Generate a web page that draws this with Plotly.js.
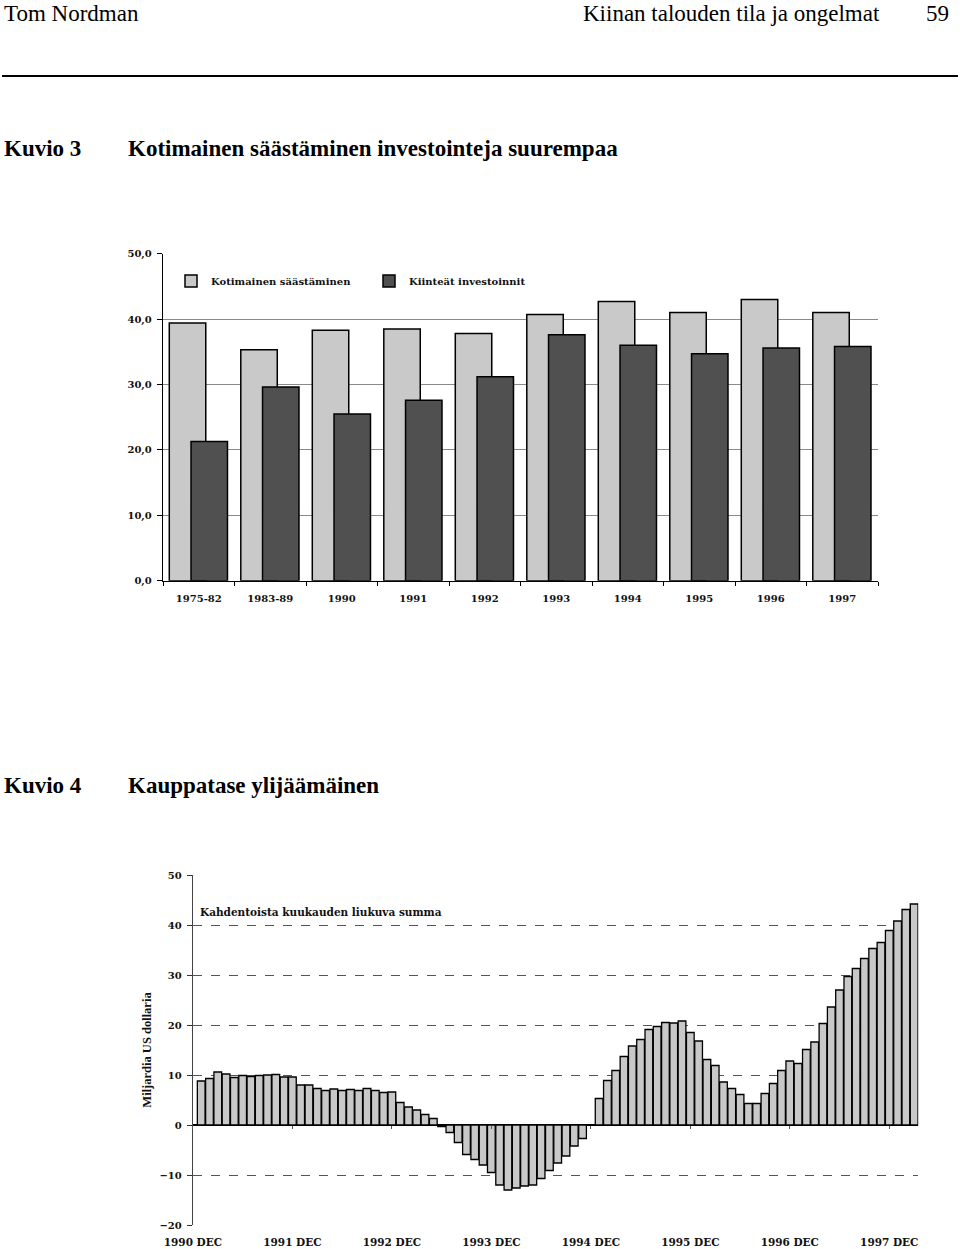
<!DOCTYPE html>
<html>
<head>
<meta charset="utf-8">
<script src="https://cdn.plot.ly/plotly-3.0.1.min.js"></script>
<style>
  html, body { margin: 0; padding: 0; background: #fff; }
  #chart { width: 960px; height: 1249px; }
</style>
</head>
<body>
<div id="chart"></div>
<script>
// ---- Kuvio 3 data ----
const periods = ['1975-82', '1983-89', '1990', '1991', '1992', '1993', '1994', '1995', '1996', '1997'];
const domesticSaving = [39.4, 35.3, 38.3, 38.5, 37.8, 40.7, 42.7, 41.0, 43.0, 41.0];
const fixedInvestment = [21.3, 29.6, 25.5, 27.6, 31.2, 37.6, 36.0, 34.7, 35.6, 35.8];
const seriesNames = ['Kotimainen säästäminen', 'Kiinteät investoinnit'];

// ---- Kuvio 4 data (12-month rolling sum, Jan 1991 .. Mar 1998) ----
const tradeSurplus = [
  8.8, 9.3, 10.6, 10.2, 9.5, 9.9, 9.7, 9.9, 10.0, 10.1, 9.6, 9.6,
  8.0, 8.0, 7.3, 6.9, 7.2, 6.9, 7.1, 6.9, 7.3, 6.9, 6.5, 6.6,
  4.5, 3.6, 3.0, 2.1, 1.3, -0.3, -1.5, -3.5, -5.9, -6.9, -8.0, -9.5,
  -12.0, -13.0, -12.6, -12.2, -12.0, -10.7, -9.1, -7.6, -6.2, -4.2, -2.7, 0,
  5.3, 8.9, 10.9, 13.7, 15.8, 17.1, 19.1, 19.7, 20.5, 20.4, 20.8, 18.5,
  16.8, 13.1, 11.9, 8.6, 7.3, 6.1, 4.3, 4.3, 6.3, 8.3, 10.9, 12.8,
  12.3, 15.1, 16.6, 20.3, 23.6, 27.0, 29.7, 31.3, 33.3, 35.3, 36.5, 38.9,
  40.8, 43.1, 44.2
];
const yearLabels = ['1990 DEC', '1991 DEC', '1992 DEC', '1993 DEC', '1994 DEC', '1995 DEC', '1996 DEC', '1997 DEC'];

// month index of each bar (0 = Jan 1991); December of year k sits at index 12k-1
const monthIdx = tradeSurplus.map((_, i) => i);
const decIdx = yearLabels.map((_, k) => 12 * k - 1);

const W = 960, H = 1249;
const px = v => v / W;
const py = v => 1 - v / H;

const serif = 'Liberation Serif, Times New Roman, serif';
const tickFont = { family: 'DejaVu Serif, serif', size: 10, color: '#111', weight: 'bold' };

const data = [
  {
    type: 'bar', name: seriesNames[0], x: periods, y: domesticSaving,
    xaxis: 'x', yaxis: 'y', width: 0.51, offset: -0.412,
    marker: { color: '#c9c9c9', line: { color: '#000', width: 1.5 } },
    hoverinfo: 'x+y'
  },
  {
    type: 'bar', name: seriesNames[1], x: periods, y: fixedInvestment,
    xaxis: 'x', yaxis: 'y', width: 0.51, offset: -0.108,
    marker: { color: '#505050', line: { color: '#000', width: 1.5 } },
    hoverinfo: 'x+y'
  },
  {
    type: 'bar', name: 'Kauppatase', x: monthIdx, y: tradeSurplus,
    xaxis: 'x2', yaxis: 'y2', showlegend: false,
    marker: { color: '#c8c8c8', line: { color: '#000', width: 1.3 } },
    hoverinfo: 'y'
  },
  {
    type: 'scatter', mode: 'markers', x: [], y: [], xaxis: 'x3', yaxis: 'y2',
    showlegend: false, hoverinfo: 'skip'
  }
];

const layout = {
  width: W, height: H,
  margin: { l: 0, r: 0, t: 0, b: 0 },
  paper_bgcolor: '#fff', plot_bgcolor: 'rgba(0,0,0,0)',
  separators: ', ',
  barmode: 'overlay',
  bargap: 0.07,
  showlegend: true,
  legend: {
    orientation: 'h', x: px(171), y: py(281), xanchor: 'left', yanchor: 'middle',
    bgcolor: 'rgba(0,0,0,0)', font: { family: 'DejaVu Serif, serif', size: 10, color: '#111', weight: 'bold' },
    itemwidth: 30, entrywidth: 153, entrywidthmode: 'pixels', traceorder: 'normal'
  },
  xaxis: {
    domain: [px(163), px(878)], anchor: 'y', type: 'category', range: [-0.5, 9.5],
    tickson: 'boundaries', ticks: 'outside', ticklen: 4, tickcolor: '#000',
    showline: true, linecolor: '#000', linewidth: 1.2, showgrid: false, zeroline: false,
    tickfont: tickFont, ticklabelstandoff: 8, fixedrange: true
  },
  yaxis: {
    domain: [py(580.7), py(253.7)], anchor: 'x', range: [0, 50], dtick: 10, tick0: 0,
    tickformat: '.1f', ticks: 'outside', ticklen: 5, tickcolor: '#000',
    showline: true, linecolor: '#000', linewidth: 1.2,
    showgrid: true, gridcolor: '#8a8a8a', gridwidth: 1, zeroline: false,
    tickfont: tickFont, ticklabelstandoff: 3, fixedrange: true
  },
  xaxis2: {
    domain: [px(192.9), px(918.3)], anchor: 'y2', range: [-1, 86.5],
    tickmode: 'array', tickvals: decIdx, ticktext: yearLabels,
    ticks: '', showline: false, showgrid: false, zeroline: false,
    tickfont: { family: 'DejaVu Serif, serif', size: 10.5, color: '#111', weight: 'bold' },
    ticklabelstandoff: 9, fixedrange: true
  },
  xaxis3: {
    overlaying: 'x2', anchor: 'free', position: py(1125), range: [-1, 86.5],
    tickmode: 'array', tickvals: decIdx, ticks: 'outside', ticklen: 3, tickcolor: '#555',
    showticklabels: false, showline: false, showgrid: false, zeroline: false, fixedrange: true
  },
  yaxis2: {
    domain: [py(1225), py(875)], anchor: 'x2', range: [-20, 50], dtick: 10, tick0: 0,
    ticks: 'outside', ticklen: 5, tickcolor: '#333',
    showline: true, linecolor: '#444', linewidth: 1.2,
    showgrid: true, gridcolor: '#555', gridwidth: 1, griddash: 'dash',
    zeroline: true, zerolinecolor: '#000', zerolinewidth: 1.5,
    tickfont: { family: 'DejaVu Serif, serif', size: 10, color: '#111', weight: 'bold' },
    ticklabelstandoff: 3,
    title: { text: 'Miljardia US dollaria', standoff: 5,
             font: { family: serif, size: 12.5, color: '#111', weight: 'bold' } },
    fixedrange: true
  },
  shapes: [
    { type: 'line', xref: 'paper', yref: 'paper', x0: px(2), x1: px(958), y0: py(76), y1: py(76),
      line: { color: '#000', width: 2 } }
  ],
  annotations: [
    { text: 'Tom Nordman', xref: 'paper', yref: 'paper', x: px(2), y: py(14), xanchor: 'left', yanchor: 'middle',
      showarrow: false, font: { family: serif, size: 23, color: '#000' } },
    { text: 'Kiinan talouden tila ja ongelmat', xref: 'paper', yref: 'paper', x: px(882), y: py(14), xanchor: 'right', yanchor: 'middle',
      showarrow: false, font: { family: serif, size: 23, color: '#000' } },
    { text: '59', xref: 'paper', yref: 'paper', x: px(951), y: py(14), xanchor: 'right', yanchor: 'middle',
      showarrow: false, font: { family: serif, size: 23, color: '#000' } },
    { text: 'Kuvio 3', xref: 'paper', yref: 'paper', x: px(2), y: py(148), xanchor: 'left', yanchor: 'middle',
      showarrow: false, font: { family: serif, size: 23, color: '#000', weight: 'bold' } },
    { text: 'Kotimainen säästäminen investointeja suurempaa', xref: 'paper', yref: 'paper', x: px(126), y: py(148), xanchor: 'left', yanchor: 'middle',
      showarrow: false, font: { family: serif, size: 23, color: '#000', weight: 'bold' } },
    { text: 'Kuvio 4', xref: 'paper', yref: 'paper', x: px(2), y: py(785), xanchor: 'left', yanchor: 'middle',
      showarrow: false, font: { family: serif, size: 23, color: '#000', weight: 'bold' } },
    { text: 'Kauppatase ylijäämäinen', xref: 'paper', yref: 'paper', x: px(126), y: py(785), xanchor: 'left', yanchor: 'middle',
      showarrow: false, font: { family: serif, size: 23, color: '#000', weight: 'bold' } },
    { text: 'Kahdentoista kuukauden liukuva summa', xref: 'paper', yref: 'paper', x: px(198), y: py(912), xanchor: 'left', yanchor: 'middle',
      showarrow: false, font: { family: 'DejaVu Serif, serif', size: 10.5, color: '#111', weight: 'bold' } }
  ]
};

Plotly.newPlot('chart', data, layout, { displayModeBar: false, staticPlot: true });
</script>
</body>
</html>
